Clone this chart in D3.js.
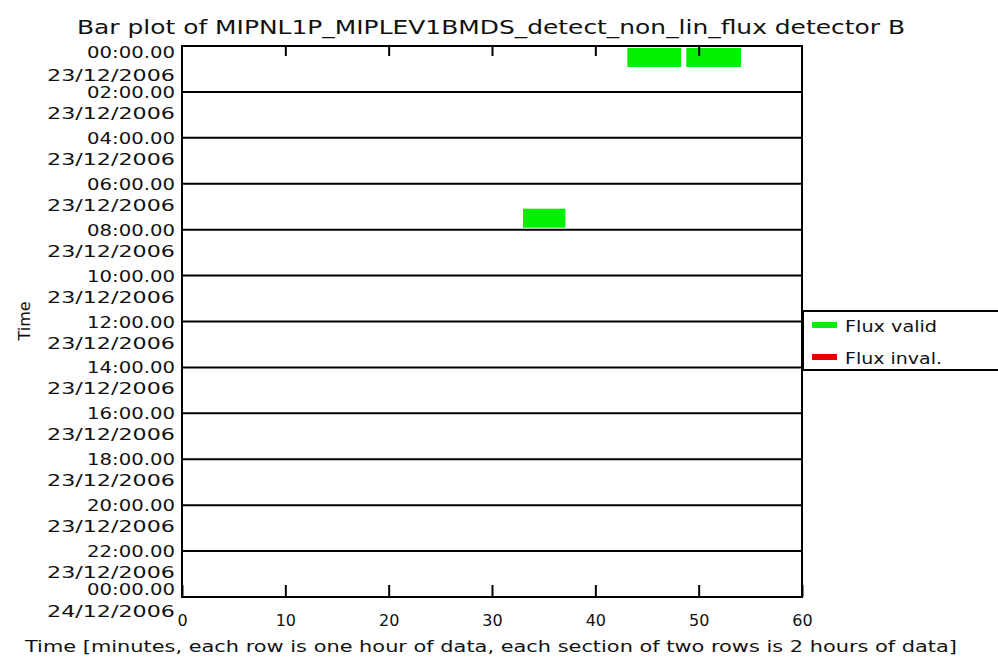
<!DOCTYPE html>
<meta charset="utf-8">
<script src="https://d3js.org/d3.v7.min.js"></script>
<style>
body { margin: 0; background: #fff; }
text { font-family: "DejaVu Sans", sans-serif; fill: #111; }
</style>
<div id="chart"></div>
<script>

// data: each bar is one stretch of data inside an hour row
var barHours  = [0, 0, 7];
var barStarts = [43.1, 48.8, 33.0];
var barEnds   = [48.3, 54.1, 37.1];
var barStatus = ["valid", "valid", "valid"];

var xTicks = [0, 10, 20, 30, 40, 50, 60];
var yHours = [0, 2, 4, 6, 8, 10, 12, 14, 16, 18, 20, 22, 24];
var yTimeLabels = ["00:00.00", "02:00.00", "04:00.00", "06:00.00", "08:00.00", "10:00.00",
  "12:00.00", "14:00.00", "16:00.00", "18:00.00", "20:00.00", "22:00.00", "00:00.00"];
var yDateLabels = ["23/12/2006", "23/12/2006", "23/12/2006", "23/12/2006", "23/12/2006",
  "23/12/2006", "23/12/2006", "23/12/2006", "23/12/2006", "23/12/2006", "23/12/2006",
  "23/12/2006", "24/12/2006"];
var legendLabels = ["Flux valid", "Flux inval."];
var legendKeys = ["valid", "invalid"];

var width = 998, height = 660;
var plot = {left: 182, right: 802, top: 46, bottom: 597};

var color = d3.scaleOrdinal().domain(["valid", "invalid"]).range(["#00f000", "#e00000"]);

var svg = d3.select("#chart").append("svg")
    .attr("width", width)
    .attr("height", height);

var x = d3.scaleLinear().domain([0, 60]).range([plot.left, plot.right]);
var y = d3.scaleLinear().domain([0, 24]).range([plot.top, plot.bottom]);

// title
svg.append("text")
  .attr("x", 77)
  .attr("y", 34)
  .attr("textLength", 828)
  .attr("lengthAdjust", "spacingAndGlyphs")
  .style("font-size", "19px")
  .text("Bar plot of MIPNL1P_MIPLEV1BMDS_detect_non_lin_flux detector B");

// bars
var bars = barHours.map(function(h, i) {
  return {hour: h, start: barStarts[i], end: barEnds[i], status: barStatus[i]};
});
svg.selectAll("rect.bar")
  .data(bars)
  .enter()
  .append("rect")
    .attr("class", "bar")
    .attr("x", function(d) { return x(d.start); })
    .attr("y", function(d) { return y(d.hour) + 2; })
    .attr("width", function(d) { return x(d.end) - x(d.start); })
    .attr("height", function(d) { return y(d.hour + 1) - y(d.hour) - 4; })
    .attr("fill", function(d) { return color(d.status); });

// section lines every two hours
svg.selectAll("line.sect")
  .data(yHours.slice(1, -1))
  .enter()
  .append("line")
    .attr("x1", plot.left)
    .attr("x2", plot.right)
    .attr("y1", function(d) { return y(d); })
    .attr("y2", function(d) { return y(d); })
    .attr("stroke", "#000")
    .attr("stroke-width", 2);

// frame
svg.append("rect")
  .attr("x", plot.left)
  .attr("y", plot.top)
  .attr("width", plot.right - plot.left)
  .attr("height", plot.bottom - plot.top)
  .attr("fill", "none")
  .attr("stroke", "#000")
  .attr("stroke-width", 2);

// bottom axis
var xAxis = svg.append("g")
  .attr("transform", "translate(0," + plot.bottom + ")")
  .call(d3.axisBottom(x).tickValues(xTicks).tickSizeInner(-12).tickSizeOuter(0).tickPadding(18));
xAxis.select(".domain").remove();
xAxis.selectAll("line").attr("stroke-width", 2);
xAxis.selectAll("text")
  .style("font-size", "16px")
  .attr("font-family", "DejaVu Sans");

// top ticks, no labels
var xTop = svg.append("g")
  .attr("transform", "translate(0," + plot.top + ")")
  .call(d3.axisTop(x).tickValues(xTicks.slice(1, -1)).tickSizeInner(-10).tickSizeOuter(0).tickFormat(""));
xTop.select(".domain").remove();
xTop.selectAll("line").attr("stroke-width", 2);

// y labels: time and date under each section line
var yLab = svg.selectAll("g.ylab")
  .data(yHours)
  .enter()
  .append("g")
    .attr("class", "ylab");
yLab.append("text")
  .attr("x", 175)
  .attr("y", function(d, i) {
    if (i === 0) return y(d) + 12;
    if (i === yHours.length - 1) return y(d) - 2;
    return y(d) + 6;
  })
  .attr("text-anchor", "end")
  .attr("textLength", 88)
  .attr("lengthAdjust", "spacingAndGlyphs")
  .style("font-size", "15px")
  .text(function(d, i) { return yTimeLabels[i]; });
yLab.append("text")
  .attr("x", 175)
  .attr("y", function(d, i) {
    if (i === 0) return y(d) + 35;
    if (i === yHours.length - 1) return y(d) + 20;
    return y(d) + 27;
  })
  .attr("text-anchor", "end")
  .attr("textLength", 128)
  .attr("lengthAdjust", "spacingAndGlyphs")
  .style("font-size", "15px")
  .text(function(d, i) { return yDateLabels[i]; });

// axis titles
svg.append("text")
  .attr("transform", "translate(30,321)rotate(-90)")
  .attr("text-anchor", "middle")
  .style("font-size", "16px")
  .text("Time");

svg.append("text")
  .attr("x", 25)
  .attr("y", 652)
  .attr("textLength", 932)
  .attr("lengthAdjust", "spacingAndGlyphs")
  .style("font-size", "16px")
  .text("Time [minutes, each row is one hour of data, each section of two rows is 2 hours of data]");

// legend
svg.append("rect")
  .attr("x", 803)
  .attr("y", 311)
  .attr("width", 200)
  .attr("height", 59)
  .attr("fill", "#fff")
  .attr("stroke", "#000")
  .attr("stroke-width", 2);

var leg = svg.selectAll("g.leg")
  .data(legendLabels)
  .enter()
  .append("g")
    .attr("class", "leg")
    .attr("transform", function(d, i) { return "translate(812," + (325 + i * 32) + ")"; });
leg.append("rect")
  .attr("x", 0)
  .attr("y", -3)
  .attr("width", 25)
  .attr("height", 6)
  .attr("fill", function(d, i) { return color(legendKeys[i]); });
leg.append("text")
  .attr("x", 33)
  .attr("y", 7)
  .attr("textLength", function(d, i) { return i === 0 ? 92 : 97; })
  .attr("lengthAdjust", "spacingAndGlyphs")
  .style("font-size", "15px")
  .text(function(d) { return d; });

</script>
